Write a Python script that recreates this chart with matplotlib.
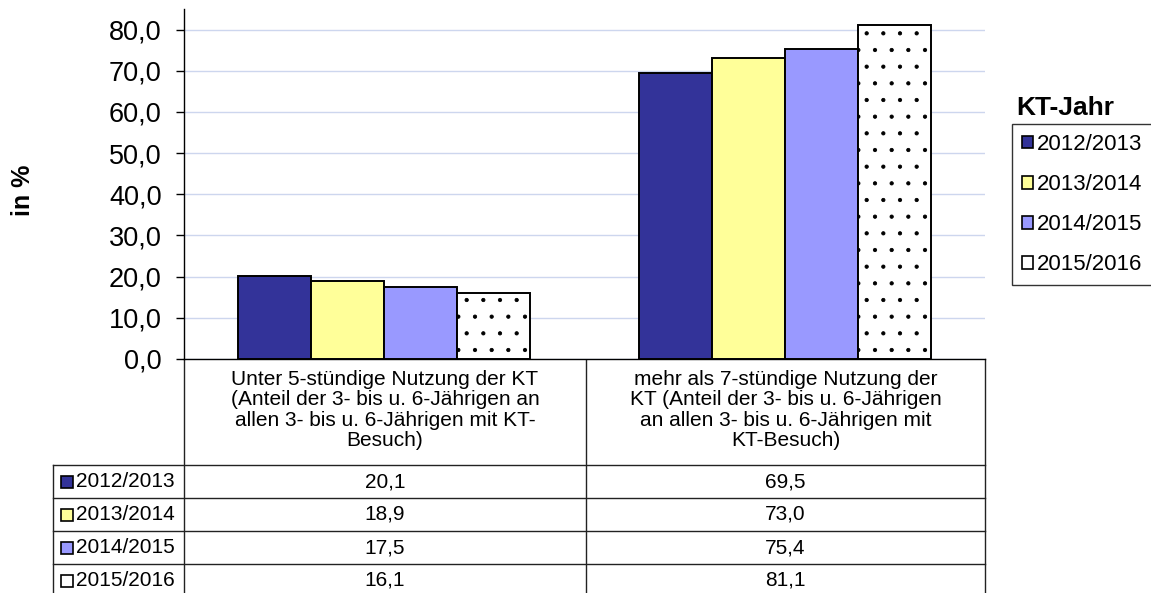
import numpy as np, matplotlib
matplotlib.use("Agg")
import matplotlib.pyplot as plt
from matplotlib.patches import Patch

plt.rcParams["font.family"] = ["Liberation Sans", "DejaVu Sans"]
plt.rcParams["hatch.color"] = "#444444"
plt.rcParams["hatch.linewidth"] = 0.6

# ---- data ----
categories = ["Unter 5-stündige Nutzung der KT\n(Anteil der 3- bis u. 6-Jährigen an\nallen 3- bis u. 6-Jährigen mit KT-\nBesuch)",
              "mehr als 7-stündige Nutzung der\nKT (Anteil der 3- bis u. 6-Jährigen\nan allen 3- bis u. 6-Jährigen mit\nKT-Besuch)"]
years = ["2012/2013", "2013/2014", "2014/2015", "2015/2016"]
v2012 = [20.1, 69.5]
v2013 = [18.9, 73.0]
v2014 = [17.5, 75.4]
v2015 = [16.1, 81.1]
series = [v2012, v2013, v2014, v2015]
colors = ["#333399", "#ffff99", "#9999ff", "#ffffff"]
hatches = [None, None, None, "."]
yticks = [0, 10, 20, 30, 40, 50, 60, 70, 80]

W, H = 1151, 593
fig = plt.figure(figsize=(W / 100, H / 100), dpi=100)
fig.patch.set_facecolor("white")

# plot area in pixel coords
L, R, T, B = 184, 985, 9, 359
ax = fig.add_axes([L / W, 1 - B / H, (R - L) / W, (B - T) / H])
x = np.arange(len(categories))
bw = 0.1823
for i, (vals, c, h) in enumerate(zip(series, colors, hatches)):
    ax.bar(x + (i - 1.5) * bw, vals, bw, color=c, edgecolor="black", lw=1.4, hatch=h, zorder=3)
ax.set_xlim(-0.5, 1.5)
ax.set_ylim(0, 85)
ax.set_yticks(yticks)
ax.set_yticklabels([f"{t:.1f}".replace(".", ",") for t in yticks], fontsize=19.5)
ax.tick_params(axis="y", direction="out", length=6, width=1, pad=10)
ax.set_xticks([])
ax.grid(axis="y", color="#cdd6ee", lw=1)
ax.set_axisbelow(True)
for s in ["top", "right"]:
    ax.spines[s].set_visible(False)
ax.spines["left"].set_linewidth(1)
ax.spines["bottom"].set_linewidth(1)

# overlay for data table, labels, legend (pixel coords)
ov = fig.add_axes([0, 0, 1, 1], zorder=-1)
ov.set_xlim(0, W); ov.set_ylim(H, 0); ov.axis("off")
col_x = [L, 586, R]
row_y = [465, 498, 531, 564, 597]
lc = "#222222"
for cx in col_x:
    ov.plot([cx, cx], [B, H], color=lc, lw=1)
ov.plot([53, 53], [row_y[0], H], color=lc, lw=1)
for ry in row_y[:-1]:
    ov.plot([53, R], [ry, ry], color=lc, lw=1)
for j, cat in enumerate(categories):
    ov.text((col_x[j] + col_x[j + 1]) / 2, 410, cat, ha="center", va="center", fontsize=15, linespacing=1.08)
for i, (yr, vals, c) in enumerate(zip(years, series, colors)):
    yc = (row_y[i] + row_y[i + 1]) / 2
    ov.add_patch(plt.Rectangle((61, yc - 6), 12, 12, facecolor=c, edgecolor="black", lw=1.2))
    ov.text(76, yc, yr, ha="left", va="center", fontsize=15)
    for j, v in enumerate(vals):
        ov.text((col_x[j] + col_x[j + 1]) / 2, yc, f"{v:.1f}".replace(".", ","), ha="center", va="center", fontsize=15)

ov.text(23, 190, "in %", rotation=90, ha="center", va="center", fontsize=18, fontweight="bold")

# legend
ov.text(1016, 108, "KT-Jahr", ha="left", va="center", fontsize=19, fontweight="bold")
handles = [Patch(facecolor=c, edgecolor="black", lw=1.2) for c in colors]
leg = fig.legend(handles, years, loc="upper left", bbox_to_anchor=(1012 / W, 1 - 124 / H), fontsize=16,
                 frameon=True, fancybox=False, edgecolor="black", handlelength=0.5, handleheight=0.5,
                 handletextpad=0.15, labelspacing=0.86, borderpad=0.45, borderaxespad=0)
leg.get_frame().set_linewidth(1)

plt.savefig("out.png", dpi=100, facecolor="white")
